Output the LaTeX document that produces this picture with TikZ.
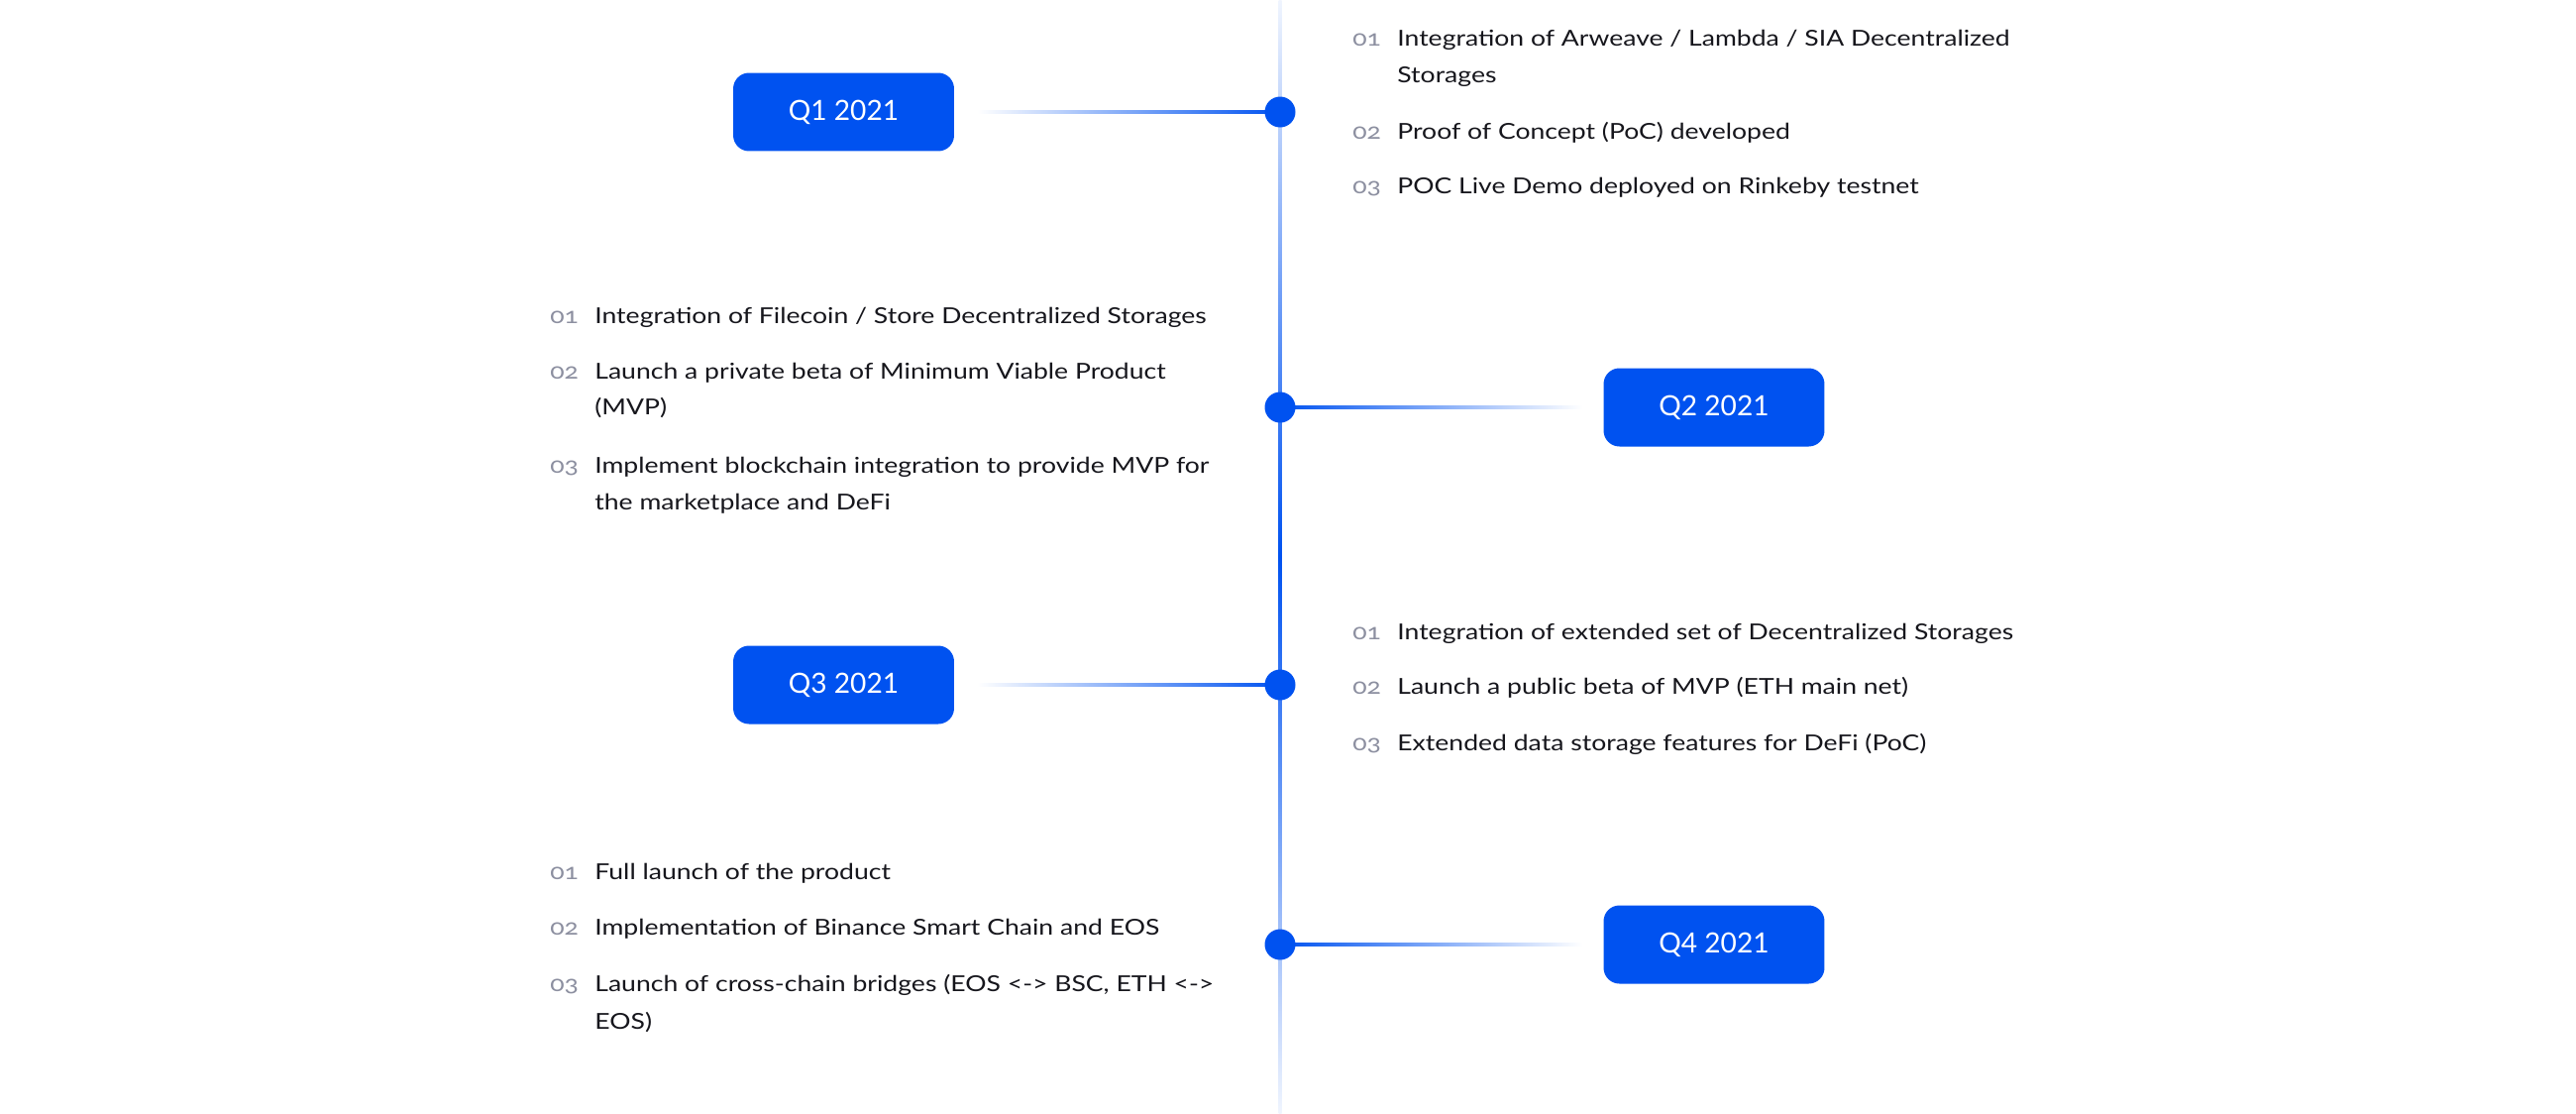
\documentclass[tikz,border=0pt]{standalone}
\usepackage{fontspec}
\usetikzlibrary{backgrounds}
\setmainfont{Lato}
\newfontfamily\bodyfont{Lato}[FakeStretch=1.2]
\newfontfamily\numfont{Lato}[FakeStretch=1.2,Numbers=OldStyle]
\newfontfamily\qfont{Lato}
\definecolor{brand}{RGB}{0,82,240}
\definecolor{txt}{RGB}{22,22,28}
\definecolor{numgray}{RGB}{140,143,160}
\begin{document}
\begin{tikzpicture}[x=0.02cm,y=-0.02cm,
  qbox/.style={fill=brand, rounded corners=0.32cm, minimum width=4.46cm, minimum height=1.58cm,
    text=white, font=\qfont\fontsize{16}{16}\selectfont, inner sep=0},
  dotnode/.style={circle, fill=brand, minimum size=0.62cm, inner sep=0},
  numlbl/.style={anchor=base west, text=numgray, font=\numfont\fontsize{12.6}{14}\selectfont, inner sep=0},
  itemlbl/.style={anchor=base west, text=txt, font=\bodyfont\fontsize{12.6}{14}\selectfont, inner sep=0}
]
\useasboundingbox (0,0) rectangle (2600,1123);

% timeline ends
\coordinate (vtop) at (1292,0);
\coordinate (vbot) at (1292,1123);

% dots
\node[dotnode] (d1) at (1292,113) {};
\node[dotnode] (d2) at (1292,411) {};
\node[dotnode] (d3) at (1292,691) {};
\node[dotnode] (d4) at (1292,953) {};

% quarter boxes
\node[qbox] (q1) at (851.5,113) {Q1 2021};
\node[qbox] (q2) at (1730,411) {Q2 2021};
\node[qbox] (q3) at (851.5,691) {Q3 2021};
\node[qbox] (q4) at (1730,953) {Q4 2021};

\begin{scope}[on background layer]
  \fill[white] (0,0) rectangle (2600,1123);
  % vertical line
  \shade[top color=brand!6, bottom color=brand!6, middle color=brand] ([xshift=-0.03cm]vtop) rectangle ([xshift=0.03cm]vbot);
  % horizontal connectors
  \shade[left color=white, right color=brand] ([xshift=0.46cm,yshift=0.03cm]q1.east) rectangle ([yshift=-0.03cm]d1.center);
  \shade[left color=brand, right color=white] ([yshift=0.03cm]d2.center) rectangle ([xshift=-0.42cm,yshift=-0.03cm]q2.west);
  \shade[left color=white, right color=brand] ([xshift=0.46cm,yshift=0.03cm]q3.east) rectangle ([yshift=-0.03cm]d3.center);
  \shade[left color=brand, right color=white] ([yshift=0.03cm]d4.center) rectangle ([xshift=-0.42cm,yshift=-0.03cm]q4.west);
\end{scope}

% Q1 items (right)
\node[numlbl] (a1n) at (1365,46) {01};
\node[itemlbl] (a1t) at (1410,46) {Integration of Arweave / Lambda / SIA Decentralized};
\node[itemlbl] (a1u) at (1410,83) {Storages};
\node[numlbl] (a2n) at (1365,140) {02};
\node[itemlbl] (a2t) at (1410,140) {Proof of Concept (PoC) developed};
\node[numlbl] (a3n) at (1365,195) {03};
\node[itemlbl] (a3t) at (1410,195) {POC Live Demo deployed on Rinkeby testnet};

% Q2 items (left)
\node[numlbl] (b1n) at (555,326) {01};
\node[itemlbl] (b1t) at (600,326) {Integration of Filecoin / Store Decentralized Storages};
\node[numlbl] (b2n) at (555,382) {02};
\node[itemlbl] (b2t) at (600,382) {Launch a private beta of Minimum Viable Product};
\node[itemlbl] (b2u) at (600,418) {(MVP)};
\node[numlbl] (b3n) at (555,477) {03};
\node[itemlbl] (b3t) at (600,477) {Implement blockchain integration to provide MVP for};
\node[itemlbl] (b3u) at (600,514) {the marketplace and DeFi};

% Q3 items (right)
\node[numlbl] (c1n) at (1365,645) {01};
\node[itemlbl] (c1t) at (1410,645) {Integration of extended set of Decentralized Storages};
\node[numlbl] (c2n) at (1365,700) {02};
\node[itemlbl] (c2t) at (1410,700) {Launch a public beta of MVP (ETH main net)};
\node[numlbl] (c3n) at (1365,757) {03};
\node[itemlbl] (c3t) at (1410,757) {Extended data storage features for DeFi (PoC)};

% Q4 items (left)
\node[numlbl] (e1n) at (555,887) {01};
\node[itemlbl] (e1t) at (600,887) {Full launch of the product};
\node[numlbl] (e2n) at (555,943) {02};
\node[itemlbl] (e2t) at (600,943) {Implementation of Binance Smart Chain and EOS};
\node[numlbl] (e3n) at (555,1000) {03};
\node[itemlbl] (e3t) at (600,1000) {Launch of cross-chain bridges (EOS <-> BSC, ETH <->};
\node[itemlbl] (e3u) at (600,1038) {EOS)};
\end{tikzpicture}
\end{document}
